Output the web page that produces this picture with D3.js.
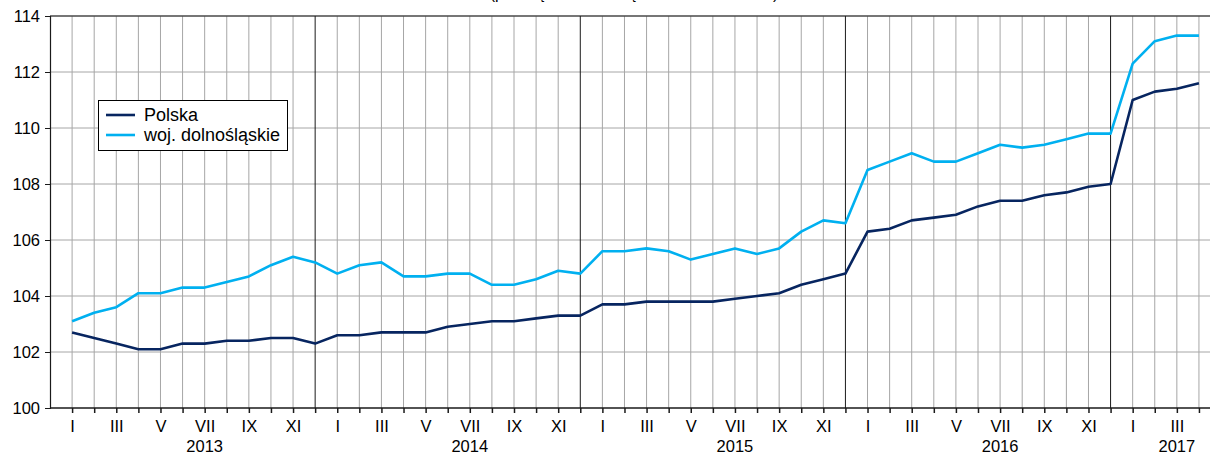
<!DOCTYPE html>
<meta charset="utf-8">
<style>
  body { margin: 0; background: #fff; }
  text { font-family: Arial, "Liberation Sans", sans-serif; }
</style>
<script src="https://d3js.org/d3.v7.min.js"></script>
<body>
<div id="chart"></div>
</body>
<script>
// data: monthly values I 2013 .. IV 2017
var years = ["2013", "2014", "2015", "2016", "2017"];
var monthLabels = ["I", "II", "III", "IV", "V", "VI", "VII", "VIII", "IX", "X", "XI", "XII"];
var yTicks = [100, 102, 104, 106, 108, 110, 112, 114];

var polska = [
  102.7, 102.5, 102.3, 102.1, 102.1, 102.3, 102.3, 102.4, 102.4, 102.5, 102.5, 102.3,
  102.6, 102.6, 102.7, 102.7, 102.7, 102.9, 103.0, 103.1, 103.1, 103.2, 103.3, 103.3,
  103.7, 103.7, 103.8, 103.8, 103.8, 103.8, 103.9, 104.0, 104.1, 104.4, 104.6, 104.8,
  106.3, 106.4, 106.7, 106.8, 106.9, 107.2, 107.4, 107.4, 107.6, 107.7, 107.9, 108.0,
  111.0, 111.3, 111.4, 111.6
];
var dolnoslaskie = [
  103.1, 103.4, 103.6, 104.1, 104.1, 104.3, 104.3, 104.5, 104.7, 105.1, 105.4, 105.2,
  104.8, 105.1, 105.2, 104.7, 104.7, 104.8, 104.8, 104.4, 104.4, 104.6, 104.9, 104.8,
  105.6, 105.6, 105.7, 105.6, 105.3, 105.5, 105.7, 105.5, 105.7, 106.3, 106.7, 106.6,
  108.5, 108.8, 109.1, 108.8, 108.8, 109.1, 109.4, 109.3, 109.4, 109.6, 109.8, 109.8,
  112.3, 113.1, 113.3, 113.3
];
var seriesNames = ["Polska", "woj. dolnośląskie"];
var seriesColors = ["#072560", "#00b0f0"];

var W = 1210, H = 454;
var margin = {left: 50, top: 16, bottom: 408};

var svg = d3.select("#chart").append("svg")
  .attr("width", W).attr("height", H);

var n = polska.length;
var idx = d3.range(n);

var x = d3.scaleLinear().domain([-1, 51.5]).range([margin.left, W]);
var y = d3.scaleLinear().domain([100, 114]).range([margin.bottom, margin.top]);

// title, cut off at the very top like in the source picture
svg.append("text")
  .attr("x", 634).attr("y", -1)
  .attr("text-anchor", "middle")
  .style("font-size", "16px")
  .text("(przeciętne w miesiącu roku 2012 = 100)");

// horizontal grid
svg.append("g").selectAll("line")
  .data(yTicks.slice(1))
  .enter().append("line")
    .attr("x1", margin.left).attr("x2", W)
    .attr("y1", function(d) { return y(d); })
    .attr("y2", function(d) { return y(d); })
    .attr("stroke", "#a6a6a6")
    .attr("stroke-width", 1);

// vertical grid at every month, darker at year end
svg.append("g").selectAll("line")
  .data(idx)
  .enter().append("line")
    .attr("x1", function(d) { return x(d); })
    .attr("x2", function(d) { return x(d); })
    .attr("y1", margin.top).attr("y2", margin.bottom)
    .attr("stroke", function(d) { return d % 12 === 11 ? "#1a1a1a" : "#a6a6a6"; })
    .attr("stroke-width", 1);

// top border
svg.append("line")
  .attr("x1", margin.left).attr("x2", W)
  .attr("y1", margin.top).attr("y2", margin.top)
  .attr("stroke", "#1a1a1a").attr("stroke-width", 1.2);

// Y axis
var yAxis = svg.append("g")
  .attr("transform", "translate(" + margin.left + ",0)")
  .call(d3.axisLeft(y).tickValues(yTicks).tickSize(5).tickPadding(5).tickFormat(d3.format("d")));
yAxis.select(".domain").attr("stroke", "#1a1a1a").attr("stroke-width", 1.2);
yAxis.selectAll(".tick line").attr("stroke", "#1a1a1a");
yAxis.selectAll("text").style("font-size", "16.5px").attr("fill", "#000")
  .style("font-family", "Arial, 'Liberation Sans', sans-serif");

// X axis: tick at every month, labels at odd months
var xAxis = svg.append("g")
  .attr("transform", "translate(0," + margin.bottom + ")")
  .call(d3.axisBottom(x).tickValues(idx).tickSize(5).tickPadding(7)
    .tickFormat(function(d) { return d % 2 === 0 ? monthLabels[d % 12] : ""; }));
xAxis.select(".domain").attr("d", "M" + margin.left + ",0H" + W).attr("stroke", "#1a1a1a").attr("stroke-width", 1.5);
xAxis.selectAll(".tick line").attr("stroke", "#1a1a1a").attr("stroke-width", 1.5);
xAxis.selectAll("text").style("font-size", "16.5px").attr("fill", "#000")
  .style("font-family", "Arial, 'Liberation Sans', sans-serif");

// year labels (July of full years, March for 2017)
svg.append("g").selectAll("text")
  .data(years)
  .enter().append("text")
    .attr("x", function(d, i) { return i < 4 ? x(i * 12 + 6) : x(i * 12 + 2); })
    .attr("y", 452)
    .attr("text-anchor", "middle")
    .style("font-size", "16.5px")
    .text(function(d) { return d; });

// lines
var line = d3.line()
  .x(function(d, i) { return x(i); })
  .y(function(d) { return y(d); });

[polska, dolnoslaskie].forEach(function(s, k) {
  svg.append("path")
    .datum(s)
    .attr("fill", "none")
    .attr("stroke", seriesColors[k])
    .attr("stroke-width", 2.6)
    .attr("stroke-linejoin", "round")
    .attr("d", line);
});

// legend
var lg = svg.append("g").attr("transform", "translate(98,100)");
lg.append("rect")
  .attr("x", 0.5).attr("y", 0.5)
  .attr("width", 189).attr("height", 50)
  .attr("fill", "#fff").attr("stroke", "#000").attr("stroke-width", 1);
seriesNames.forEach(function(name, k) {
  var yy = 15 + k * 20;
  lg.append("line")
    .attr("x1", 8).attr("x2", 37)
    .attr("y1", yy).attr("y2", yy)
    .attr("stroke", seriesColors[k]).attr("stroke-width", 2.6);
  lg.append("text")
    .attr("x", 46).attr("y", yy + 6)
    .style("font-size", "18px")
    .text(name);
});
</script>
</html>
